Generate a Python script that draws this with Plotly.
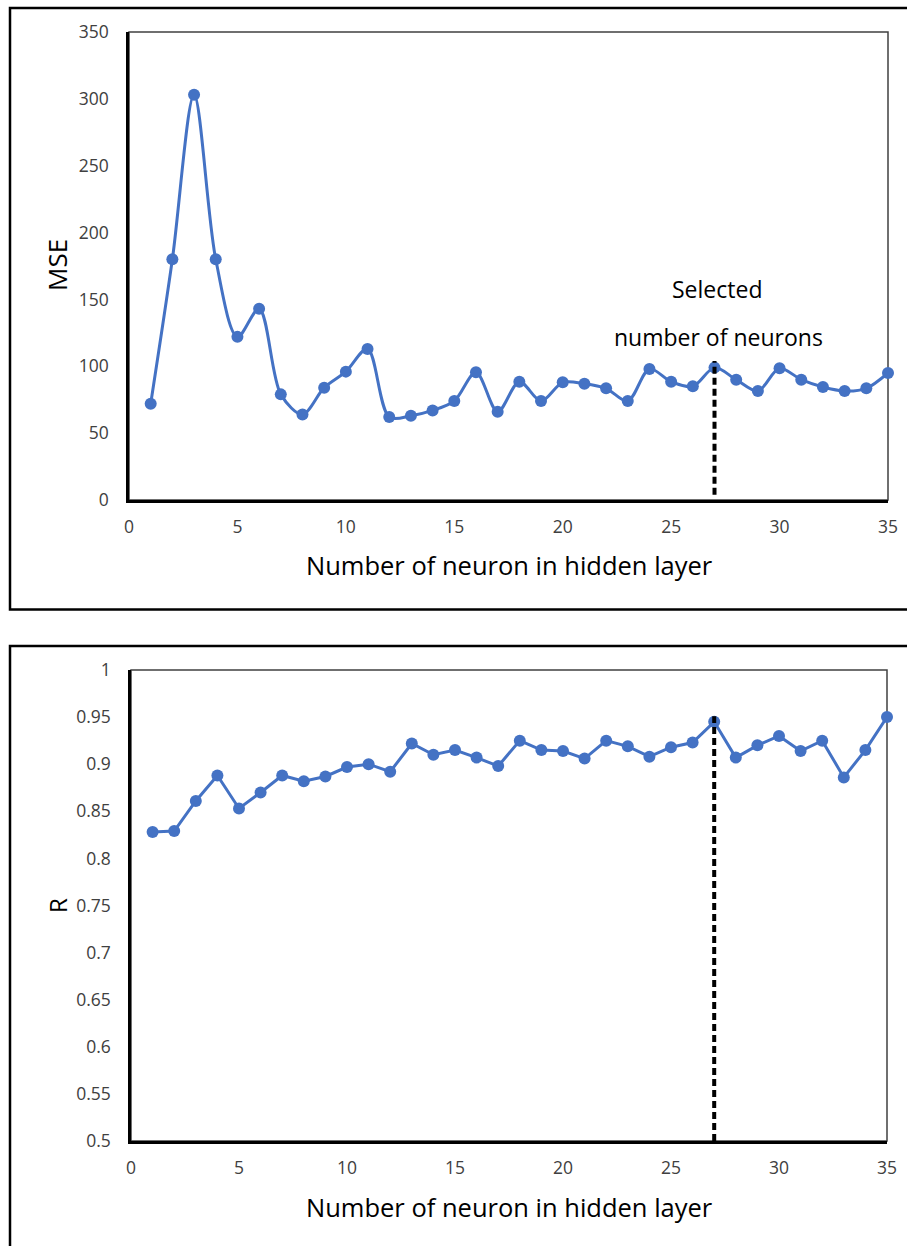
import plotly.graph_objects as go

# Hidden-layer sizes tested
neurons = list(range(1, 36))

# Mean squared error for each network size
mse = [72, 180, 303, 180, 122, 143, 79, 64, 84, 96,
       113, 62, 63, 67, 74, 95.5, 66, 88.5, 74, 88,
       87, 83.5, 74, 98, 88.5, 85, 99, 90, 81.5, 98.5,
       90, 84.5, 81.5, 83.5, 95]

# Correlation coefficient for each network size
r_vals = [0.828, 0.829, 0.861, 0.888, 0.853, 0.870, 0.888, 0.882, 0.887, 0.897,
          0.900, 0.892, 0.922, 0.910, 0.915, 0.907, 0.898, 0.925, 0.915, 0.914,
          0.906, 0.925, 0.919, 0.908, 0.918, 0.923, 0.945, 0.907, 0.920, 0.930,
          0.914, 0.925, 0.886, 0.915, 0.950]

selected = 27

x_ticks = [0, 5, 10, 15, 20, 25, 30, 35]
mse_ticks = [0, 50, 100, 150, 200, 250, 300, 350]
r_ticks = [0.5, 0.55, 0.6, 0.65, 0.7, 0.75, 0.8, 0.85, 0.9, 0.95, 1]
r_tick_text = ["0.5", "0.55", "0.6", "0.65", "0.7", "0.75", "0.8", "0.85", "0.9", "0.95", "1"]

W, H = 907, 1246
BLUE = "#4472C4"
FONT = "Open Sans"


def px_x(v):
    return v / W


def px_y(v):
    return 1 - v / H


fig = go.Figure()

fig.add_trace(go.Scatter(
    x=neurons, y=mse, mode="lines+markers",
    line=dict(color=BLUE, width=3, shape="spline", smoothing=0.9),
    marker=dict(color=BLUE, size=12),
    cliponaxis=False, xaxis="x", yaxis="y", showlegend=False,
))

fig.add_trace(go.Scatter(
    x=neurons, y=r_vals, mode="lines+markers",
    line=dict(color=BLUE, width=3),
    marker=dict(color=BLUE, size=12),
    cliponaxis=False, xaxis="x2", yaxis="y2", showlegend=False,
))

tick_font = dict(family=FONT, size=17.5, color="#404040")
axis_common = dict(
    showgrid=False, zeroline=False, ticks="", showline=True, automargin=False,
    linecolor="black", linewidth=2.5, tickfont=tick_font, fixedrange=True,
)

fig.update_layout(
    width=W, height=H, autosize=False,
    margin=dict(l=0, r=0, t=0, b=0, pad=0, autoexpand=False),
    paper_bgcolor="white", plot_bgcolor="white",
    xaxis=dict(domain=[px_x(129), px_x(888)], range=[0, 35],
               tickvals=x_ticks, anchor="y", ticklabelstandoff=9, **axis_common),
    yaxis=dict(domain=[px_y(500), px_y(32)], range=[0, 350],
               tickvals=mse_ticks, anchor="x", ticklabelstandoff=14, **axis_common),
    xaxis2=dict(domain=[px_x(131), px_x(887)], range=[0, 35],
                tickvals=x_ticks, anchor="y2", ticklabelstandoff=9, **axis_common),
    yaxis2=dict(domain=[px_y(1141), px_y(670)], range=[0.5, 1],
                tickvals=r_ticks, ticktext=r_tick_text, anchor="x2",
                ticklabelstandoff=14, **axis_common),
)

shapes = [
    # thin plot-area borders (top and right)
    dict(type="rect", xref="x domain", yref="y domain", x0=0, x1=1, y0=0, y1=1,
         line=dict(color="#404040", width=1.5), layer="below"),
    dict(type="rect", xref="x2 domain", yref="y2 domain", x0=0, x1=1, y0=0, y1=1,
         line=dict(color="#404040", width=1.5), layer="below"),
    # selected network size
    dict(type="line", xref="x", yref="y", x0=selected, x1=selected, y0=4, y1=104,
         line=dict(color="black", width=4, dash="7px,4px")),
    dict(type="line", xref="x2", yref="y2", x0=selected, x1=selected, y0=0.5, y1=0.951,
         line=dict(color="black", width=4, dash="7px,4px")),
    # outer panel frames
    dict(type="rect", xref="paper", yref="paper",
         x0=px_x(10), x1=1.05, y0=px_y(609.5), y1=px_y(8),
         line=dict(color="black", width=2.5)),
    dict(type="rect", xref="paper", yref="paper",
         x0=px_x(10), x1=1.05, y0=-0.05, y1=px_y(646),
         line=dict(color="black", width=2.5)),
]
fig.update_layout(shapes=shapes)

title_font = dict(family=FONT, size=25.5, color="black")
annotations = [
    dict(text="Number of neuron in hidden layer", x=px_x(509), y=px_y(565),
         xref="paper", yref="paper", showarrow=False, font=title_font,
         xanchor="center", yanchor="middle"),
    dict(text="Number of neuron in hidden layer", x=px_x(509), y=px_y(1207),
         xref="paper", yref="paper", showarrow=False, font=title_font,
         xanchor="center", yanchor="middle"),
    dict(text="MSE", x=px_x(57), y=px_y(265), xref="paper", yref="paper",
         showarrow=False, textangle=-90, font=dict(family=FONT, size=26, color="black"),
         xanchor="center", yanchor="middle"),
    dict(text="R", x=px_x(57), y=px_y(906), xref="paper", yref="paper",
         showarrow=False, textangle=-90, font=dict(family=FONT, size=24, color="black"),
         xanchor="center", yanchor="middle"),
    dict(text="Selected", x=px_x(717), y=px_y(289), xref="paper", yref="paper",
         showarrow=False, font=dict(family=FONT, size=23, color="black"),
         xanchor="center", yanchor="middle"),
    dict(text="number of neurons", x=px_x(718), y=px_y(337), xref="paper", yref="paper",
         showarrow=False, font=dict(family=FONT, size=23, color="black"),
         xanchor="center", yanchor="middle"),
]
fig.update_layout(annotations=annotations)

fig.write_html("out.html")

# Remove the browser's default body margin so the figure fills the page exactly
with open("out.html", encoding="utf-8") as fh:
    page = fh.read()
page = page.replace("<head>", "<head><style>html,body{margin:0;padding:0;overflow:hidden;}</style>", 1)
with open("out.html", "w", encoding="utf-8") as fh:
    fh.write(page)
